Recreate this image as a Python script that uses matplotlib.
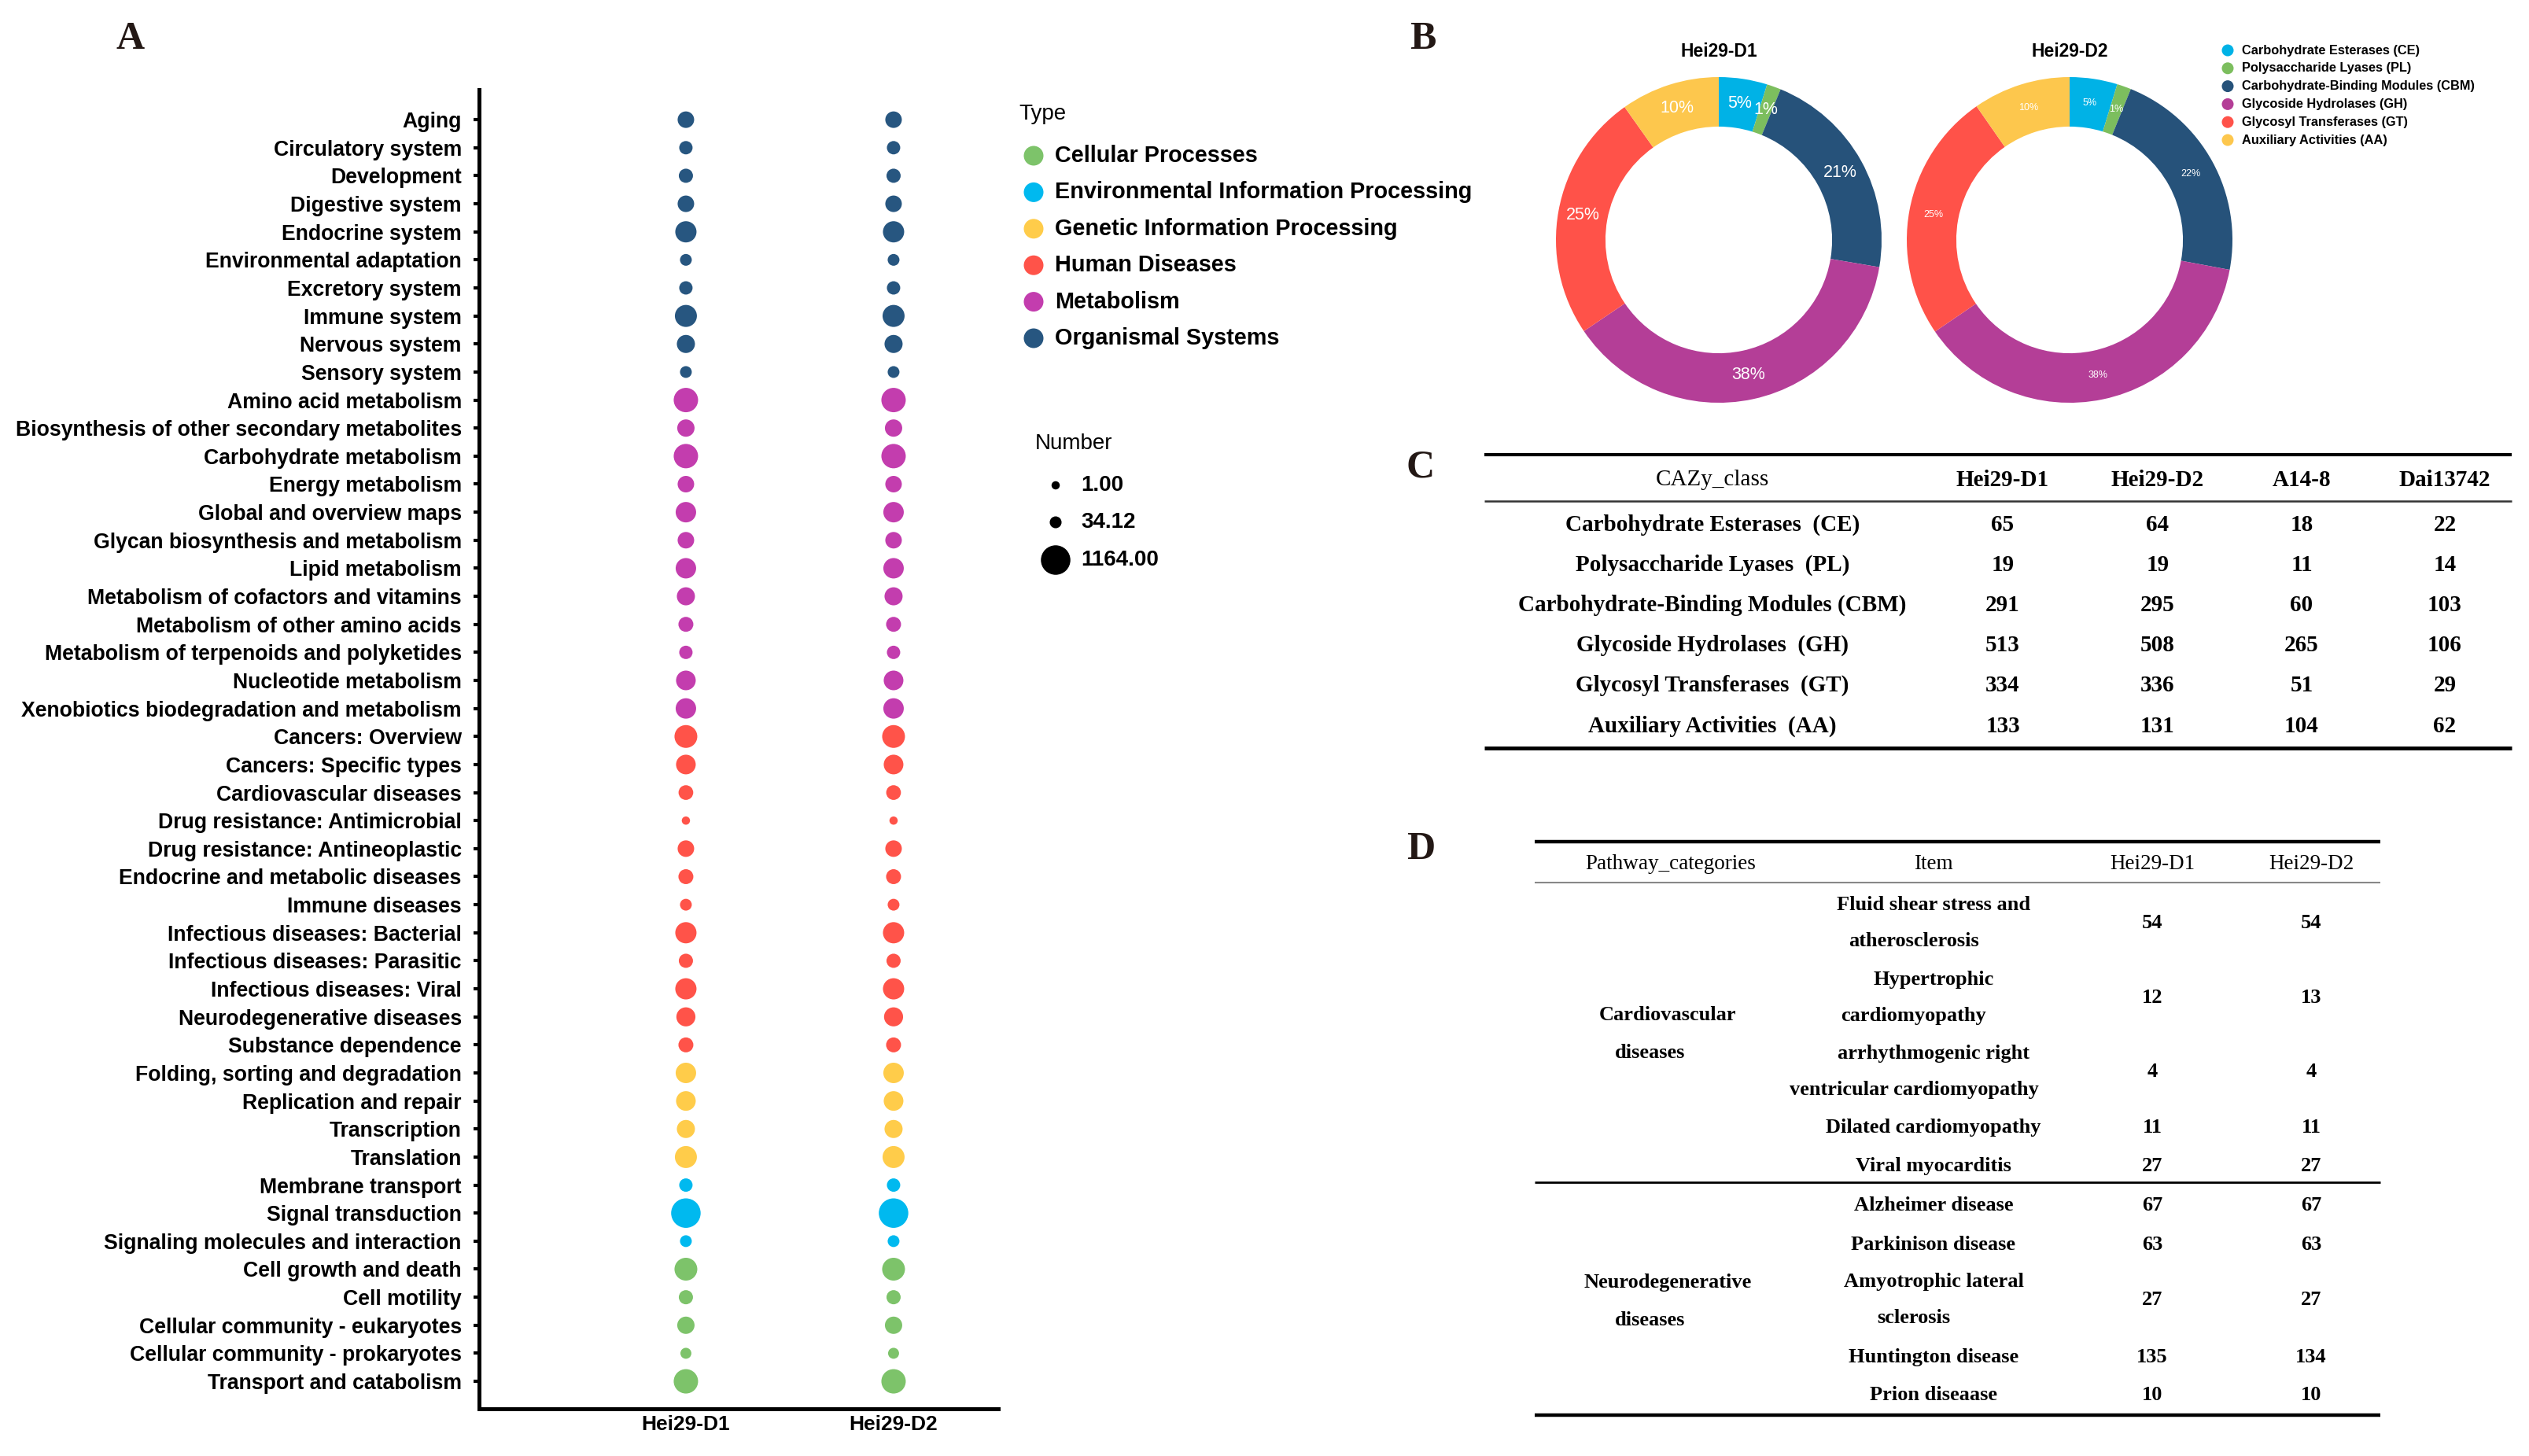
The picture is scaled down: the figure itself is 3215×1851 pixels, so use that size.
import numpy as np
import matplotlib
matplotlib.use("Agg")
import matplotlib.pyplot as plt

W, H = 3215, 1851
SANS = "Liberation Sans"
SERIF = "Liberation Serif"

# ---------------- data: panel A ----------------
categories = [
    "Aging", "Circulatory system", "Development", "Digestive system", "Endocrine system",
    "Environmental adaptation", "Excretory system", "Immune system", "Nervous system", "Sensory system",
    "Amino acid metabolism", "Biosynthesis of other secondary metabolites", "Carbohydrate metabolism",
    "Energy metabolism", "Global and overview maps", "Glycan biosynthesis and metabolism",
    "Lipid metabolism", "Metabolism of cofactors and vitamins", "Metabolism of other amino acids",
    "Metabolism of terpenoids and polyketides", "Nucleotide metabolism",
    "Xenobiotics biodegradation and metabolism",
    "Cancers: Overview", "Cancers: Specific types", "Cardiovascular diseases",
    "Drug resistance: Antimicrobial", "Drug resistance: Antineoplastic",
    "Endocrine and metabolic diseases", "Immune diseases", "Infectious diseases: Bacterial",
    "Infectious diseases: Parasitic", "Infectious diseases: Viral", "Neurodegenerative diseases",
    "Substance dependence",
    "Folding, sorting and degradation", "Replication and repair", "Transcription", "Translation",
    "Membrane transport", "Signal transduction", "Signaling molecules and interaction",
    "Cell growth and death", "Cell motility", "Cellular community - eukaryotes",
    "Cellular community - prokaryotes", "Transport and catabolism",
]
category_types = (["Organismal Systems"] * 10 + ["Metabolism"] * 12 + ["Human Diseases"] * 12
                  + ["Genetic Information Processing"] * 4
                  + ["Environmental Information Processing"] * 3 + ["Cellular Processes"] * 5)
samples = ["Hei29-D1", "Hei29-D2"]
counts_d1 = [177, 68, 91, 177, 435, 33, 68, 489, 250, 33,
             671, 212, 671, 177, 384, 177, 384, 250, 116, 68, 336, 384,
             547, 336, 108, 1, 177, 116, 33, 435, 91, 435, 302, 116,
             384, 336, 250, 489,
             68, 1164, 33,
             547, 91, 212, 20, 671]
counts_d2 = [177, 68, 91, 177, 435, 33, 68, 489, 250, 33,
             671, 212, 671, 177, 384, 177, 384, 250, 116, 68, 336, 384,
             547, 336, 109, 1, 177, 116, 33, 435, 91, 435, 301, 116,
             384, 336, 250, 489,
             68, 1164, 33,
             547, 91, 212, 20, 671]
type_order = ["Cellular Processes", "Environmental Information Processing",
              "Genetic Information Processing", "Human Diseases", "Metabolism",
              "Organismal Systems"]
type_colors = ["#7DC36A", "#00B9EF", "#FFCC4A", "#FF5349", "#C33DAE", "#275680"]
size_breaks = [1.00, 34.12, 1164.00]

# ---------------- data: panel B / C ----------------
cazy_classes = ["Carbohydrate Esterases  (CE)", "Polysaccharide Lyases  (PL)",
                "Carbohydrate-Binding Modules (CBM)", "Glycoside Hydrolases  (GH)",
                "Glycosyl Transferases  (GT)", "Auxiliary Activities  (AA)"]
legend_classes = ["Carbohydrate Esterases (CE)", "Polysaccharide Lyases (PL)",
                  "Carbohydrate-Binding Modules (CBM)", "Glycoside Hydrolases (GH)",
                  "Glycosyl Transferases (GT)", "Auxiliary Activities (AA)"]
cazy_colors = ["#00B2E6", "#7CBE5E", "#26527A", "#B43E97", "#FF5249", "#FDC74D"]
table_c_header = ["CAZy_class", "Hei29-D1", "Hei29-D2", "A14-8", "Dai13742"]
cazy_hei29_d1 = [65, 19, 291, 513, 334, 133]
cazy_hei29_d2 = [64, 19, 295, 508, 336, 131]
cazy_a14_8 = [18, 11, 60, 265, 51, 104]
cazy_dai13742 = [22, 14, 103, 106, 29, 62]

# ---------------- data: panel D ----------------
table_d_header = ["Pathway_categories", "Item", "Hei29-D1", "Hei29-D2"]
d_categories = ["Cardiovascular\ndiseases", "Neurodegenerative\ndiseases"]
d_items = ["Fluid shear stress and\natherosclerosis", "Hypertrophic\ncardiomyopathy",
           "arrhythmogenic right\nventricular cardiomyopathy", "Dilated cardiomyopathy",
           "Viral myocarditis",
           "Alzheimer disease", "Parkinison disease", "Amyotrophic lateral\nsclerosis",
           "Huntington disease", "Prion diseaase"]
d_item_category = [0, 0, 0, 0, 0, 1, 1, 1, 1, 1]
d_hei29_d1 = [54, 12, 4, 11, 27, 67, 63, 27, 135, 10]
d_hei29_d2 = [54, 13, 4, 11, 27, 67, 63, 27, 134, 10]

# ---------------- helpers ----------------
fig = plt.figure(figsize=(W / 100, H / 100), dpi=100)


def px_axes(x0, y0, x1, y1):
    return fig.add_axes([x0 / W, 1 - y1 / H, (x1 - x0) / W, (y1 - y0) / H])


vmin, vmax = 1.0, 1164.0
dmin_px, dmax_px = 10.5, 37.5


def dot_size(v):
    v = np.asarray(v, dtype=float)
    d = dmin_px + (dmax_px - dmin_px) * np.sqrt(np.clip((v - vmin) / (vmax - vmin), 0, 1))
    return (d * 0.72) ** 2


# overlay axis in pixel coordinates
ov = fig.add_axes([0, 0, 1, 1])
ov.set_xlim(0, W)
ov.set_ylim(H, 0)
ov.axis("off")

# ---------------- panel A ----------------
ax = px_axes(609, 114, 1269, 1791)
ypos = np.arange(len(categories))
cmap = dict(zip(type_order, type_colors))
cols = [cmap[t] for t in category_types]
for xi, vals in enumerate([counts_d1, counts_d2], start=1):
    ax.scatter(np.full(len(vals), xi), ypos, s=dot_size(vals), c=cols, linewidths=0, zorder=3)
ax.set_ylim(45.98, -1.07)
ax.set_xlim(0.004, 2.504)
ax.set_yticks(ypos)
ax.set_yticklabels(categories, fontsize=19.2, fontweight="bold", family=SANS)
ax.set_xticks([1, 2])
ax.set_xticklabels(samples, fontsize=19, fontweight="bold", family=SANS)
ax.tick_params(axis="y", length=5, width=3, pad=11, direction="out")
ax.tick_params(axis="x", length=0, pad=6)
for s in ["top", "right"]:
    ax.spines[s].set_visible(False)
for s in ["left", "bottom"]:
    ax.spines[s].set_linewidth(3.6)
ax.set_facecolor("none")

# Type legend
ov.text(1295, 145, "Type", fontsize=20, family=SANS, va="center", ha="left")
leg_y = np.linspace(198, 430, len(type_order))
ov.scatter(np.full(len(type_order), 1314), leg_y, s=(25 * 0.72) ** 2, c=type_colors, linewidths=0)
for yy, t in zip(leg_y, type_order):
    ov.text(1341, yy, t, fontsize=20.8, fontweight="bold", family=SANS, va="center", ha="left")

# Number legend
ov.text(1316, 564, "Number", fontsize=20, family=SANS, va="center", ha="left")
num_y = [617, 664, 712]
ov.scatter(np.full(3, 1342), num_y, s=dot_size(size_breaks), c="black", linewidths=0)
for yy, b in zip(num_y, size_breaks):
    ov.text(1374, yy, f"{b:.2f}", fontsize=20, fontweight="bold", family=SANS, va="center", ha="left")

# ---------------- panel B ----------------
R = 207
for cx, vals, title, fs in [(2185, cazy_hei29_d1, "Hei29-D1", 15.5), (2631, cazy_hei29_d2, "Hei29-D2", 9)]:
    pax = px_axes(cx - R, 305 - R, cx + R, 305 + R)
    wedges, texts, autotexts = pax.pie(
        vals, colors=cazy_colors, startangle=90, counterclock=False,
        wedgeprops=dict(width=0.304, linewidth=0), autopct="%.0f%%", pctdistance=0.85,
        textprops=dict(color="white", fontsize=fs, family=SANS))
    pax.set_xlim(-1, 1)
    pax.set_ylim(-1, 1)
    pax.set_aspect("equal")
    ov.text(cx, 65, title, fontsize=16.5, fontweight="bold", family=SANS, ha="center", va="center")

pl_y = np.linspace(64, 178, len(legend_classes))
ov.scatter(np.full(len(legend_classes), 2832), pl_y, s=(15 * 0.72) ** 2, c=cazy_colors, linewidths=0)
for yy, t in zip(pl_y, legend_classes):
    ov.text(2850, yy, t, fontsize=11.8, fontweight="bold", family=SANS, va="center", ha="left")

# ---------------- panel C ----------------
cx_cols = [2177, 2546, 2743, 2926, 3108]
ov.plot([1887, 3193], [578, 578], color="black", lw=3.0, solid_capstyle="butt")
ov.plot([1887, 3193], [637, 637], color="#333333", lw=1.8, solid_capstyle="butt")
ov.plot([1887, 3193], [951, 951], color="black", lw=3.5, solid_capstyle="butt")
for i, (h, x) in enumerate(zip(table_c_header, cx_cols)):
    ov.text(x, 610, h, fontsize=21, family=SERIF, fontweight="normal" if i == 0 else "bold",
            ha="center", va="center")
c_rows_y = np.linspace(667, 923, len(cazy_classes))
for k, yy in enumerate(c_rows_y):
    rowvals = [cazy_classes[k], cazy_hei29_d1[k], cazy_hei29_d2[k], cazy_a14_8[k], cazy_dai13742[k]]
    for x, v in zip(cx_cols, rowvals):
        ov.text(x, yy, str(v), fontsize=21, family=SERIF, fontweight="bold", ha="center", va="center")

# ---------------- panel D ----------------
dx_cols = [2124, 2458, 2736, 2938]
ov.plot([1951, 3026], [1070, 1070], color="black", lw=3.2, solid_capstyle="butt")
ov.plot([1951, 3026], [1122, 1122], color="#888888", lw=1.5, solid_capstyle="butt")
ov.plot([1951, 3026], [1503, 1503], color="black", lw=2.0, solid_capstyle="butt")
ov.plot([1951, 3026], [1799, 1799], color="black", lw=3.2, solid_capstyle="butt")
for h, x in zip(table_d_header, dx_cols):
    ov.text(x, 1098, h, fontsize=19.5, family=SERIF, ha="center", va="center")

d_row_y = [1173, 1268, 1362, 1433, 1482, 1532, 1582, 1652, 1725, 1773]
for k, yy in enumerate(d_row_y):
    lines = d_items[k].split("\n")
    if len(lines) == 1:
        ov.text(dx_cols[1], yy, lines[0], fontsize=19, family=SERIF, fontweight="bold",
                ha="center", va="center")
    else:
        ov.text(dx_cols[1], yy - 23, lines[0], fontsize=19, family=SERIF, fontweight="bold",
                ha="center", va="center")
        ov.text(dx_cols[1] - 25, yy + 23, lines[1], fontsize=19, family=SERIF, fontweight="bold",
                ha="center", va="center")
    ov.text(dx_cols[2], yy, str(d_hei29_d1[k]), fontsize=19, family=SERIF, fontweight="bold",
            ha="center", va="center")
    ov.text(dx_cols[3], yy, str(d_hei29_d2[k]), fontsize=19, family=SERIF, fontweight="bold",
            ha="center", va="center")

for cat, yc in zip(d_categories, [1314, 1654]):
    l1, l2 = cat.split("\n")
    ov.text(dx_cols[0] - 4, yc - 24, l1, fontsize=19, family=SERIF, fontweight="bold",
            ha="center", va="center")
    ov.text(dx_cols[0] - 26, yc + 24, l2, fontsize=19, family=SERIF, fontweight="bold",
            ha="center", va="center")

# ---------------- panel letters ----------------
for letter, (x, y) in zip("ABCD", [(166, 50), (1809, 50), (1806, 594), (1806, 1080)]):
    ov.text(x, y, letter, fontsize=36, family=SERIF, fontweight="bold", color="#231815",
            ha="center", va="center")

fig.savefig("out.png", dpi=100)
